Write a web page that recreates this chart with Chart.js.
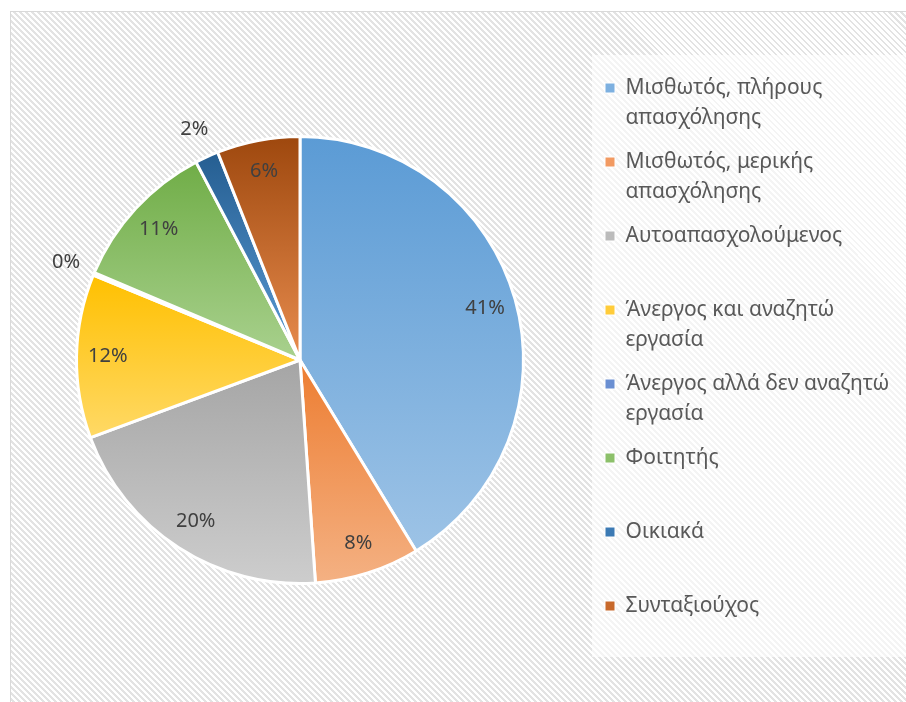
<!DOCTYPE html>
<html>
<head>
<meta charset="utf-8">
<title>Pie</title>
<script src="https://cdn.jsdelivr.net/npm/chart.js@4.4.1/dist/chart.umd.min.js"></script>
<style>
	html, body { margin: 0; padding: 0; background: #fff; overflow: hidden; }
	#frame {
		position: absolute; left: 10px; top: 11px; width: 920px; height: 720px;
		box-sizing: border-box; border: 1px solid #d9d9d9;
		background: repeating-linear-gradient(45deg, #e3e3e3 0, #e3e3e3 2px, #fff 2px, #fff 4.24px);
	}
	#chart { position: absolute; left: 0; top: 0; }
</style>
</head>
<body>
<div id="frame"></div>
<canvas id="chart" width="906" height="702"></canvas>
<script>
	// categories (legend text, '\n' = line break as in the original)
	var categories = [
		'Μισθωτός, πλήρους\nαπασχόλησης',
		'Μισθωτός, μερικής\nαπασχόλησης',
		'Αυτοαπασχολούμενος',
		'Άνεργος και αναζητώ\nεργασία',
		'Άνεργος αλλά δεν αναζητώ\nεργασία',
		'Φοιτητής',
		'Οικιακά',
		'Συνταξιούχος'
	];
	// share of answers in %
	var shares = [41.3, 7.6, 20.45, 11.85, 0.2, 10.9, 1.7, 6.0];
	var topColors = ['#5B9BD5', '#ED7D31', '#A5A5A5', '#FFC000', '#4472C4', '#70AD47', '#255E91', '#9E480E'];
	var bottomColors = ['#9DC3E6', '#F4B183', '#CDCDCD', '#FFD966', '#8FAADC', '#A9D18E', '#5B9BD5', '#E88C4E'];
	var legendColors = ['#7DB0E0', '#F29A62', '#BBBBBB', '#FFCC3A', '#6A8FD2', '#8CC06A', '#3C7AB4', '#C8692B'];

	var legendWidth = 300;
	var fontFamily = '"Noto Sans", sans-serif';

	function sum(arr) {
		return arr.reduce(function(a, b) { return a + b; }, 0);
	}

	// vertical extent of one slice, so each slice gets its own top-to-bottom gradient
	function sliceRange(chart, i) {
		var area = chart.chartArea;
		var cx = (area.left + area.right) / 2;
		var cy = (area.top + area.bottom) / 2;
		var r = chart.getDatasetMeta(0).controller.outerRadius || Math.min(area.width, area.height) / 2;
		var total = sum(shares);
		var a0 = -Math.PI / 2 + 2 * Math.PI * sum(shares.slice(0, i)) / total;
		var a1 = a0 + 2 * Math.PI * shares[i] / total;
		var ys = [cy, cy + r * Math.sin(a0), cy + r * Math.sin(a1)];
		if (a0 < Math.PI / 2 && a1 > Math.PI / 2) ys.push(cy + r);
		return [Math.min.apply(null, ys), Math.max.apply(null, ys)];
	}

	function sliceFill(c) {
		var i = c.dataIndex;
		if (i === undefined) return topColors[0];
		var chart = c.chart;
		if (!chart.chartArea) return topColors[i];
		var yr = sliceRange(chart, i);
		var g = chart.ctx.createLinearGradient(0, yr[0], 0, yr[1]);
		g.addColorStop(0, topColors[i]);
		g.addColorStop(1, bottomColors[i]);
		return g;
	}

	var placeLegend = {
		id: 'placeLegend',
		afterInit: function(chart) {
			var lg = chart.legend;
			var fit = lg.fit;
			lg.fit = function() {
				fit.call(this);
				this.width = legendWidth;
			};
		},
		afterLayout: function(chart) {
			var lg = chart.legend;
			lg.left = 591;
			lg.right = lg.left + legendWidth;
			lg.top = 63.5;
		},
		beforeDraw: function(chart) {
			// lighter legend panel
			var ctx = chart.ctx;
			ctx.save();
			ctx.fillStyle = 'rgba(255,255,255,0.6)';
			ctx.fillRect(592, 55, 314, 602);
			ctx.restore();
		}
	};

	var pctLabels = {
		id: 'pctLabels',
		afterDatasetsDraw: function(chart) {
			var ctx = chart.ctx;
			var meta = chart.getDatasetMeta(0);
			ctx.save();
			ctx.font = '20px ' + fontFamily;
			ctx.fillStyle = '#404040';
			ctx.textAlign = 'center';
			ctx.textBaseline = 'middle';
			meta.data.forEach(function(arc, i) {
				var mid = (arc.startAngle + arc.endAngle) / 2;
				var d = shares[i] < 3 ? arc.outerRadius + 30 : arc.outerRadius * 0.86;
				ctx.fillText(Math.round(shares[i]) + '%', arc.x + d * Math.cos(mid), arc.y + d * Math.sin(mid));
			});
			ctx.restore();
		}
	};

	var ctx = document.getElementById('chart').getContext('2d');
	window.pieChart = new Chart(ctx, {
		type: 'pie',
		data: {
			labels: categories,
			datasets: [{
				data: shares,
				backgroundColor: sliceFill,
				borderColor: '#ffffff',
				borderWidth: 3,
				hoverOffset: 0
			}]
		},
		options: {
			responsive: false,
			animation: false,
			layout: {
				padding: { left: 75, right: 906 - 525 - legendWidth, top: 18, bottom: 0 }
			},
			plugins: {
				tooltip: { enabled: false },
				legend: {
					position: 'right',
					align: 'start',
					labels: {
						boxWidth: 10,
						boxHeight: 10,
						padding: 14,
						color: '#595959',
						font: { family: fontFamily, size: 21, lineHeight: 30 / 21 },
						generateLabels: function(chart) {
							return categories.map(function(name, i) {
								var lines = name.split('\n');
								if (lines.length < 2) lines.push('');
								return {
									text: lines,
									fillStyle: legendColors[i],
									strokeStyle: '#ffffff',
									lineWidth: 1,
									fontColor: '#595959',
									hidden: false,
									index: i
								};
							});
						}
					}
				}
			}
		},
		plugins: [placeLegend, pctLabels]
	});
</script>
</body>
</html>
